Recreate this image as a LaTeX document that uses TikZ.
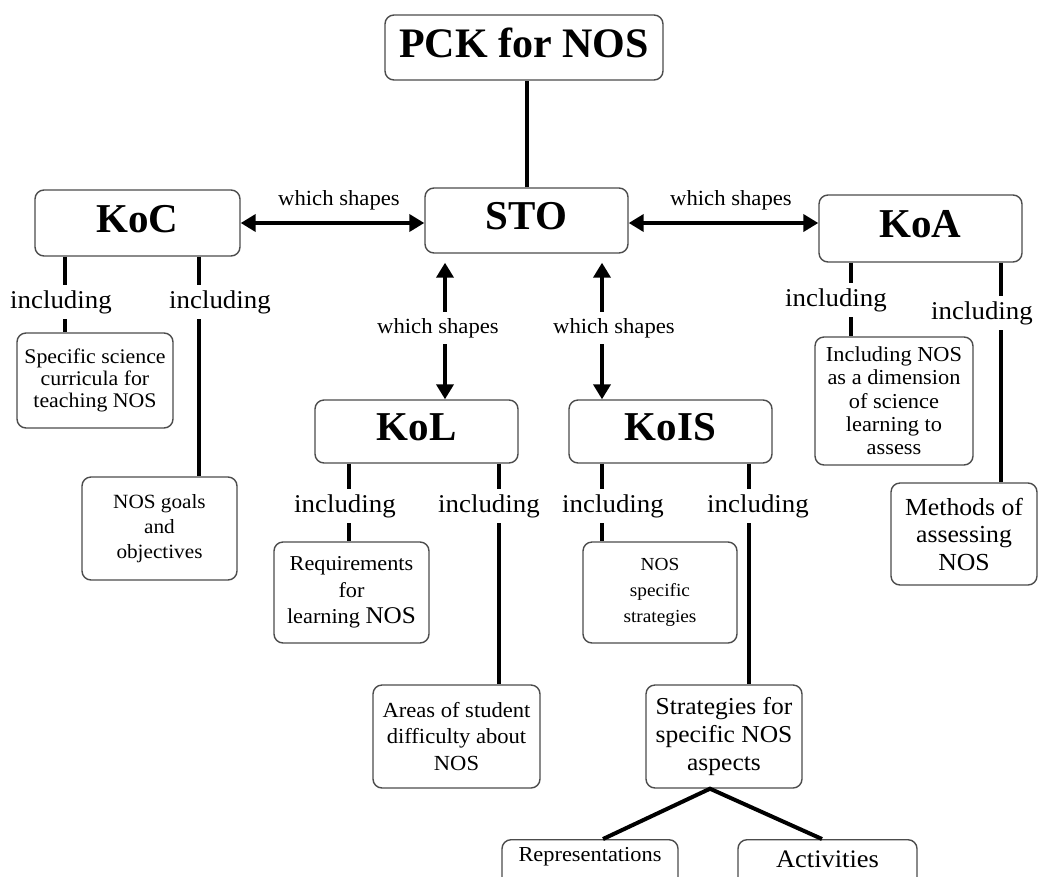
\documentclass[tikz,border=0pt]{standalone}
\usepackage{fontspec}
\setmainfont{Liberation Serif}
\newfontfamily\widefont[FakeStretch=1.05]{Liberation Serif}
\usetikzlibrary{arrows.meta}
\newcommand{\setsize}[2]{\fontsize{#1}{#2}\selectfont}

\tikzset{
  box/.style={draw=black!70, line width=1.4pt, rounded corners=9pt, fill=white, align=center, inner sep=0pt},
  boxsize/.style 2 args={minimum width=#1pt, minimum height=#2pt},
  titlebox/.style={box, font=\bfseries\setsize{41}{45}, text depth=9pt},
  link/.style={line width=4pt},
  biarrow/.style={link, {Triangle[length=15pt,width=17pt]}-{Triangle[length=15pt,width=17pt]}},
  inclabel/.style={fill=white, inner xsep=1pt, inner ysep=5pt, font=\widefont\setsize{25.6}{28}},
  shapelabel/.style={fill=white, inner xsep=1pt, inner ysep=6pt, font=\widefont\setsize{21.6}{24}}
}

\begin{document}
\begin{tikzpicture}[x=1pt,y=-1pt]
    \useasboundingbox (0,0) rectangle (1038,876);
    % Main boxes
    \node[titlebox, font=\bfseries\setsize{42}{46}, boxsize={278}{65}] (pck) at (524,47.5) {PCK for NOS};
    \node[titlebox, boxsize={203}{65}] (sto) at (526.5,220.5) {STO};
    \node[titlebox, boxsize={205}{66}] (koc) at (137.5,223) {KoC};
    \node[titlebox, boxsize={203}{67}] (koa) at (920.5,228.5) {KoA};
    \node[titlebox, boxsize={203}{63}] (kol) at (416.5,431.5) {KoL};
    \node[titlebox, boxsize={203}{63}] (kois) at (670.5,431.5) {KoIS};
    % Component boxes
    \node[box, font=\widefont\setsize{20.8}{21.7}, boxsize={156}{95}] (spec) at (95,380.5) {Specific science\\curricula for\\teaching NOS};
    \node[box, font=\widefont\setsize{20.2}{25}, boxsize={155}{103}] (goals) at (159.5,528.5) {NOS goals\\and\\objectives};
    \node[box, font=\widefont\setsize{21.3}{23.3}, boxsize={158}{128}] (inclnos) at (894,401) {Including NOS\\as a dimension\\of science\\learning to\\assess};
    \node[box, font=\widefont\setsize{24.5}{27.5}, boxsize={146}{102}] (meth) at (964,534) {Methods of\\assessing\\NOS};
    \node[box, font=\widefont\setsize{21.2}{26.7}, boxsize={155}{101}] (req) at (351.5,592.5) {Requirements\\for\\learning {\setsize{24}{26.7}NOS}};
    \node[box, font=\widefont\setsize{21.5}{26.7}, boxsize={167}{103}] (areas) at (456.5,736.5) {Areas of student\\difficulty about\\NOS};
    \node[box, font=\widefont\setsize{18.4}{26}, boxsize={154}{101}] (nosspec) at (660,592.5) {NOS\\specific\\strategies};
    \node[box, font=\widefont\setsize{24.3}{28.3}, boxsize={156}{103}] (strat) at (724,736.5) {Strategies for\\specific NOS\\aspects};
    \node[box, anchor=north, font=\widefont\setsize{21.3}{22}, minimum width=176pt, text height=22pt, text depth=40pt] (repr) at (590,839) {Representations};
    \node[box, anchor=north, font=\widefont\setsize{25.2}{26}, minimum width=179pt, text height=28pt, text depth=34pt] (act) at (827.5,839) {Activities};
    % Where the lines leave the boxes
    \coordinate (kocA) at (65,0);
    \coordinate (kocB) at (199,0);
    \coordinate (koaA) at (851,0);
    \coordinate (koaB) at (1001,0);
    \coordinate (kolA) at (349,0);
    \coordinate (kolB) at (499,0);
    \coordinate (koisA) at (602,0);
    \coordinate (koisB) at (749,0);
    \coordinate (stoA) at (445,0);
    \coordinate (stoB) at (602,0);
    \coordinate (fork) at (710,0);
    \coordinate (reprA) at (603,0);
    \coordinate (actA) at (822,0);
    % Connectors
    \draw[link] (sto.north) -- (sto.north |- pck.south);
    \draw[biarrow] (koc.east) -- (koc.east -| sto.west);
    \draw[biarrow] (sto.east |- koc.east) -- (koa.west |- koc.east);
    \draw[biarrow, shorten <=9pt] (sto.south -| stoA) -- (kol.north -| stoA);
    \draw[biarrow, shorten <=9pt] (sto.south -| stoB) -- (kois.north -| stoB);
    \draw[link] (koc.south -| kocA) -- (spec.north -| kocA);
    \draw[link] (koc.south -| kocB) -- (goals.north -| kocB);
    \draw[link] (koa.south -| koaA) -- (inclnos.north -| koaA);
    \draw[link] (koa.south -| koaB) -- (meth.north -| koaB);
    \draw[link] (kol.south -| kolA) -- (req.north -| kolA);
    \draw[link] (kol.south -| kolB) -- (areas.north -| kolB);
    \draw[link] (kois.south -| koisA) -- (nosspec.north -| koisA);
    \draw[link] (kois.south -| koisB) -- (strat.north -| koisB);
    \draw[link] (repr.north -| reprA) -- (strat.south -| fork) -- (act.north -| actA);
    % Connector labels
    \node[shapelabel] (lkoc) at (339,200) {which shapes};
    \node[shapelabel] (lkoa) at (731,200) {which shapes};
    \node[shapelabel] (lstoA) at (438,328) {which shapes};
    \node[shapelabel] (lstoB) at (614,328) {which shapes};
    \node[inclabel] (lkocA) at (61,302) {including};
    \node[inclabel] (lkocB) at (220,302) {including};
    \node[inclabel] (lkoaA) at (836,300) {including};
    \node[inclabel] (lkoaB) at (982,313) {including};
    \node[inclabel] (lkolA) at (345,506) {including};
    \node[inclabel] (lkolB) at (489,506) {including};
    \node[inclabel] (lkoisA) at (613,506) {including};
    \node[inclabel] (lkoisB) at (758,506) {including};
\end{tikzpicture}
\end{document}
